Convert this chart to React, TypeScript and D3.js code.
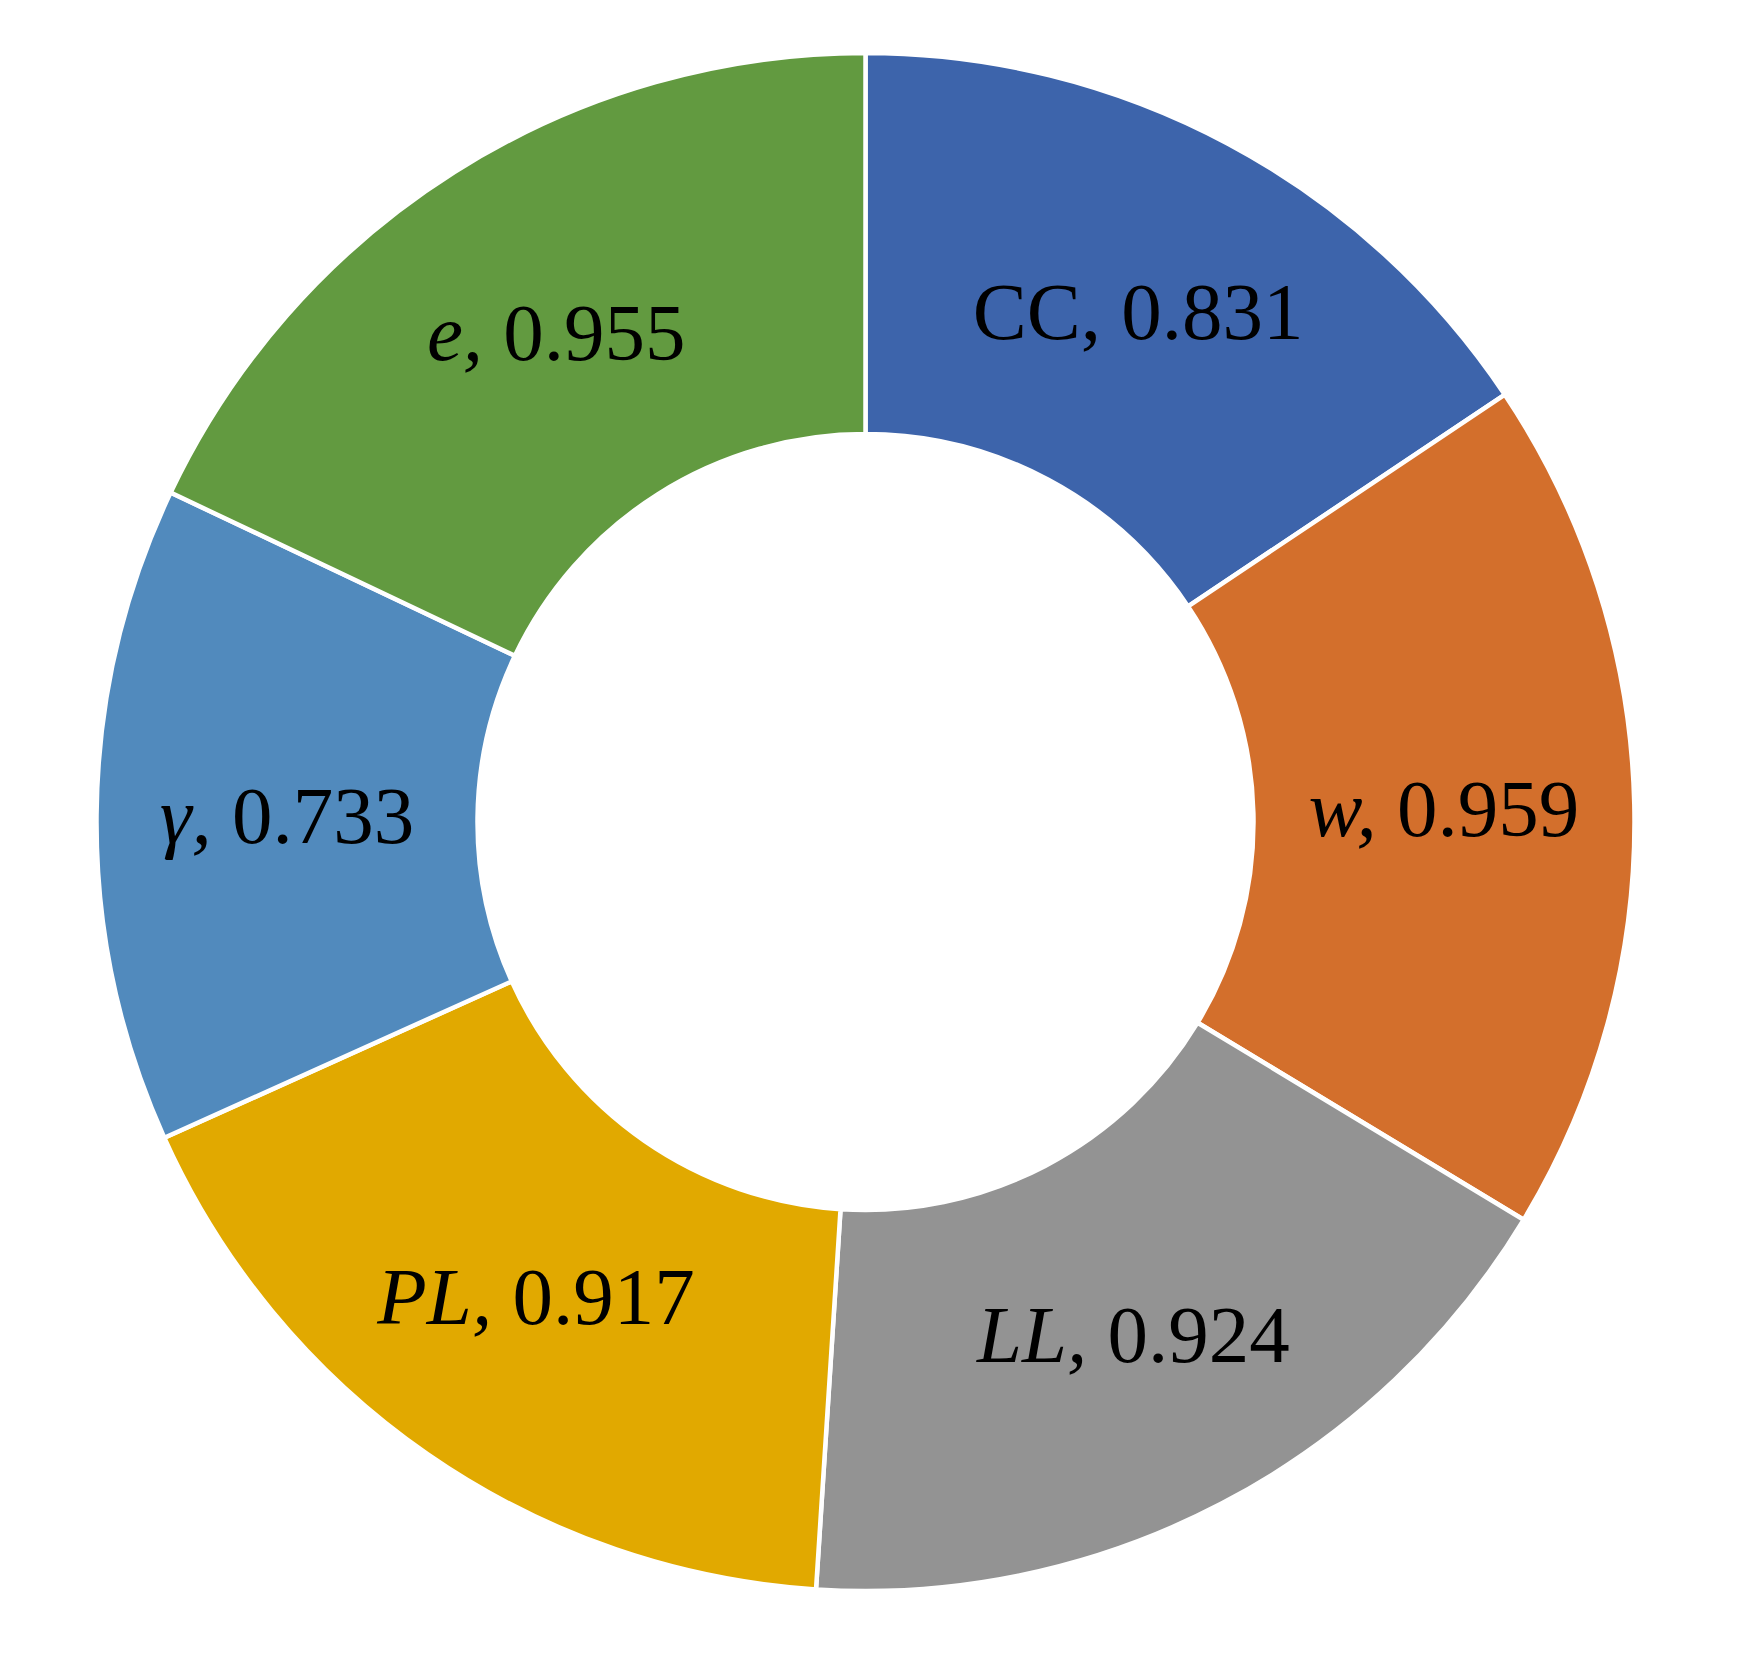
import { useEffect, useRef } from 'react';
import * as d3 from 'd3';

// slice data, clockwise from 12 o'clock
const names = ['CC', 'w', 'LL', 'PL', 'γ', 'e'];
const italicName = [false, true, true, true, true, true];
const values = [0.831, 0.959, 0.924, 0.917, 0.733, 0.955];
const colors = ['#3D64AB', '#D36F2C', '#939393', '#E1A900', '#518ABD', '#629A40'];

export default function App() {
  const svgRef = useRef<SVGSVGElement>(null);

  useEffect(() => {
    const width = 1756;
    const height = 1658;
    const cx = 865.5;
    const cy = 822;
    const outer = 769;
    const inner = 388;

    const svg = d3.select(svgRef.current);
    svg.selectAll('*').remove();
    svg.attr('width', width).attr('height', height);

    const rows = names.map((n, i) => ({ name: n, italic: italicName[i], value: values[i], color: colors[i] }));

    const pie = d3.pie<any>().sort(null).value(d => d.value);
    const arc = d3.arc<any>().innerRadius(inner).outerRadius(outer);
    const arcs = pie(rows);

    const g = svg.append('g').attr('transform', `translate(${cx},${cy})`);

    g.selectAll('path')
      .data(arcs)
      .join('path')
      .attr('d', arc)
      .attr('fill', d => d.data.color)
      .attr('stroke', '#ffffff')
      .attr('stroke-width', 4.5)
      .attr('stroke-linejoin', 'miter');

    // labels at slice centroids
    const labels = g.selectAll('text')
      .data(arcs)
      .join('text')
      .attr('transform', d => `translate(${arc.centroid(d)})`)
      .attr('text-anchor', 'middle')
      .attr('dominant-baseline', 'central')
      .attr('font-family', '"Liberation Serif", "DejaVu Serif", serif')
      .attr('font-size', 81)
      .attr('fill', '#000');

    labels.append('tspan')
      .attr('font-style', d => (d.data.italic ? 'italic' : 'normal'))
      .text(d => d.data.name + ',');
    labels.append('tspan')
      .text(d => ' ' + d.data.value.toFixed(3));
  }, []);

  return (
    <svg
      ref={svgRef}
      style={{ position: 'absolute', left: 0, top: 0, background: '#fff', display: 'block' }}
    />
  );
}
